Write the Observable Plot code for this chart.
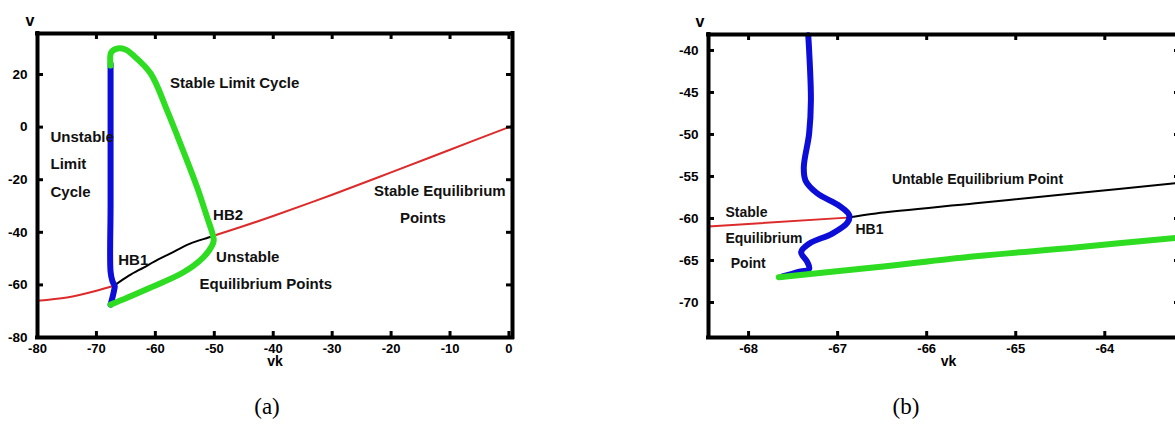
<!DOCTYPE html>
<html>
<head>
<meta charset="utf-8">
<script src="https://cdn.jsdelivr.net/npm/d3@7"></script>
<script src="https://cdn.jsdelivr.net/npm/@observablehq/plot@0.6"></script>
<style>
  html, body { margin: 0; padding: 0; background: #fff; }
  #wrap { position: relative; width: 1175px; height: 425px; overflow: hidden; background: #fff; }
  .panel { position: absolute; top: 0; }
  .panel svg { max-width: none !important; display: block; }
  .cap { position: absolute; font-family: "Liberation Serif", serif; font-size: 23px; color: #000; transform: translate(-50%, -50%); white-space: nowrap; }
</style>
</head>
<body>
<div id="wrap">
  <div id="pa" class="panel" style="left:0px; width:522px"></div>
  <div id="pb" class="panel" style="left:640px; width:550px"></div>
  <div class="cap" style="left:267px; top:407px">(a)</div>
  <div class="cap" style="left:906px; top:407px">(b)</div>
</div>
<script>
// ---------- Panel (a) data ----------
const aXTicks = [-80, -70, -60, -50, -40, -30, -20, -10, 0];
const aYTicks = [-80, -60, -40, -20, 0, 20];
// stable equilibrium branch (left of HB1)
const aRedLeftVk = [-80, -75, -70, -67];
const aRedLeftV  = [-66, -64.8, -62.2, -60.2];
// stable equilibrium branch (right of HB2)
const aRedRightVk = [-50.1, -45, -40, -30, -20, -10, 0, 0.6];
const aRedRightV  = [-41.3, -37.6, -33.8, -25.7, -17.2, -8.6, 0, 0.5];
// unstable equilibrium branch (HB1 -> HB2)
const aBlackVk = [-66.8, -64.5, -62.0, -59.5, -57.5, -54.1, -51.0, -50.1];
const aBlackV  = [-60.0, -56.5, -53.4, -50.3, -48.1, -44.3, -42.0, -41.3];
// unstable limit cycle
const aBlueVk = [-67.6, -67.3, -67.0, -66.9, -67.3, -67.6, -67.6, -67.6, -67.6];
const aBlueV  = [-67.5, -65.0, -62.0, -60.5, -58.5, -55.0, -30.0, 0.0, 24.0];
// stable limit cycle (max branch then min branch)
const aGreenVk = [-67.6, -67.5, -66.4, -65.1, -63.7, -60.8, -58.0, -55.3, -52.9, -51.2, -50.3, -50.1, -50.4, -51.9, -55.3, -60.8, -64.7, -67.6];
const aGreenV  = [23.4, 28.4, 29.9, 29.5, 27.2, 20.4, 6.3, -8.9, -23.0, -34.4, -40.5, -43.1, -45.2, -49.6, -55.3, -61.0, -64.8, -67.5];
const aLabels = ["Stable Limit Cycle", "Unstable", "Limit", "Cycle", "HB2", "HB1", "Unstable", "Equilibrium Points", "Stable Equilibrium", "Points"];
const aLabelVk = [-57.5, -77.8, -77.8, -77.8, -50.2, -66.3, -49.7, -52.5, -22.9, -18.5];
const aLabelV  = [16.6, -4.0, -14.2, -24.9, -33.6, -50.7, -49.6, -59.8, -24.5, -34.8];

// ---------- Panel (b) data ----------
const bXTicks = [-68, -67, -66, -65, -64];
const bYTicks = [-70, -65, -60, -55, -50, -45, -40];
const bRedVk = [-68.45, -66.89];
const bRedV  = [-60.95, -59.9];
const bBlackVk = [-66.89, -66.57, -65.45, -64.33, -63.15];
const bBlackV  = [-59.9, -59.4, -58.2, -57.0, -55.75];
const bBlueVk = [-67.33, -67.32, -67.30, -67.32, -67.38, -67.36, -67.23, -66.98, -66.87, -66.89, -67.06, -67.32, -67.41, -67.34, -67.32, -67.45, -67.62];
const bBlueV  = [-38.2, -40.0, -45.9, -49.9, -53.9, -55.5, -57.0, -58.5, -59.6, -60.5, -61.8, -63.0, -64.0, -65.2, -66.0, -66.4, -66.9];
const bGreenVk = [-67.66, -66.57, -65.45, -64.33, -63.15];
const bGreenV  = [-67.0, -65.8, -64.5, -63.45, -62.25];
const bLabels = ["Untable Equilibrium Point", "Stable", "Equilibrium", "Point", "HB1"];
const bLabelVk = [-66.39, -68.26, -68.26, -68.20, -66.80];
const bLabelV  = [-55.36, -59.29, -62.38, -65.36, -61.31];

const zip = (xs, ys) => xs.map((x, i) => ({x, y: ys[i]}));
const RED = "#dd2a2a", BLUE = "#0d0dd8", GREEN = "#2edc22";

function panel(cfg) {
  const W = cfg.width - cfg.ml - cfg.mr, H = cfg.height - cfg.mt - cfg.mb;
  const fmt = d => String(d);
  const tk = {stroke: "#000", strokeWidth: 3, strokeOpacity: 1};
  const fr = {stroke: "#000", strokeWidth: 4, strokeLinecap: "square"};
  return Plot.plot({
    width: cfg.width, height: cfg.height,
    marginLeft: cfg.ml, marginRight: cfg.mr, marginTop: cfg.mt, marginBottom: cfg.mb,
    style: {fontFamily: "Liberation Sans, Arial, sans-serif", fontSize: "14px", fontWeight: "bold", color: "black", background: "transparent", overflow: "visible", maxWidth: "none"},
    x: {domain: cfg.xd},
    y: {domain: cfg.yd},
    marks: [
      ...cfg.lines.map(l => Plot.line(zip(l.x, l.y), {x: "x", y: "y", stroke: l.c, strokeWidth: l.w, strokeLinecap: "round", strokeLinejoin: "round", curve: "catmull-rom"})),
      Plot.text(zip(cfg.lx, cfg.ly).map((d, i) => ({...d, t: cfg.labels[i]})), {x: "x", y: "y", text: "t", textAnchor: "start", fontSize: cfg.lfs, fontWeight: "bold", fill: "#111"}),
      // frame as rules at the domain edges
      Plot.ruleX(cfg.xd, {x: d => d, ...fr}),
      Plot.ruleY(cfg.yd, {y: d => d, ...fr}),
      // inward ticks on all four sides
      Plot.tickX(cfg.xt, {x: d => d, insetTop: H - 6, ...tk}),
      Plot.tickX(cfg.xt, {x: d => d, insetBottom: H - 6, ...tk}),
      Plot.tickY(cfg.yt, {y: d => d, insetRight: W - 6, ...tk}),
      Plot.tickY(cfg.yt, {y: d => d, insetLeft: W - 6, ...tk}),
      Plot.axisX({ticks: cfg.xt, tickSize: 0, tickPadding: 6, tickFormat: fmt, label: null, fontSize: 13, fontWeight: "bold"}),
      Plot.axisY({ticks: cfg.yt, tickSize: 0, tickPadding: 10, tickFormat: fmt, label: null, fontSize: 13.5, fontWeight: "bold"}),
      Plot.text(["vk"], {frameAnchor: "bottom", dx: cfg.vkdx, dy: 28, text: d => d, fontSize: 14, fontWeight: "bold"}),
      Plot.text(["v"], {frameAnchor: "top-left", dx: cfg.vdx, dy: -19, text: d => d, fontSize: 16, fontWeight: "bold"})
    ]
  });
}

document.getElementById("pa").appendChild(panel({
  width: 522, height: 380, ml: 37, mr: 10, mt: 33, mb: 43,
  xd: [-80, 0.6], yd: [-80, 35.6], xt: aXTicks, yt: aYTicks,
  lines: [
    {x: aRedLeftVk, y: aRedLeftV, c: RED, w: 2},
    {x: aRedRightVk, y: aRedRightV, c: RED, w: 2},
    {x: aBlackVk, y: aBlackV, c: "black", w: 2},
    {x: aBlueVk, y: aBlueV, c: BLUE, w: 6},
    {x: aGreenVk, y: aGreenV, c: GREEN, w: 6}
  ],
  labels: aLabels, lx: aLabelVk, ly: aLabelV, lfs: 15, vkdx: 0, vdx: -12
}));

document.getElementById("pb").appendChild(panel({
  width: 550, height: 380, ml: 68, mr: 10, mt: 34, mb: 43,
  xd: [-68.45, -63.15], yd: [-74.17, -38.1], xt: bXTicks, yt: bYTicks,
  lines: [
    {x: bRedVk, y: bRedV, c: RED, w: 2},
    {x: bBlackVk, y: bBlackV, c: "black", w: 2},
    {x: bBlueVk, y: bBlueV, c: BLUE, w: 6},
    {x: bGreenVk, y: bGreenV, c: GREEN, w: 6}
  ],
  labels: bLabels, lx: bLabelVk, ly: bLabelV, lfs: 14, vkdx: 4, vdx: -13
}));
</script>
</body>
</html>
